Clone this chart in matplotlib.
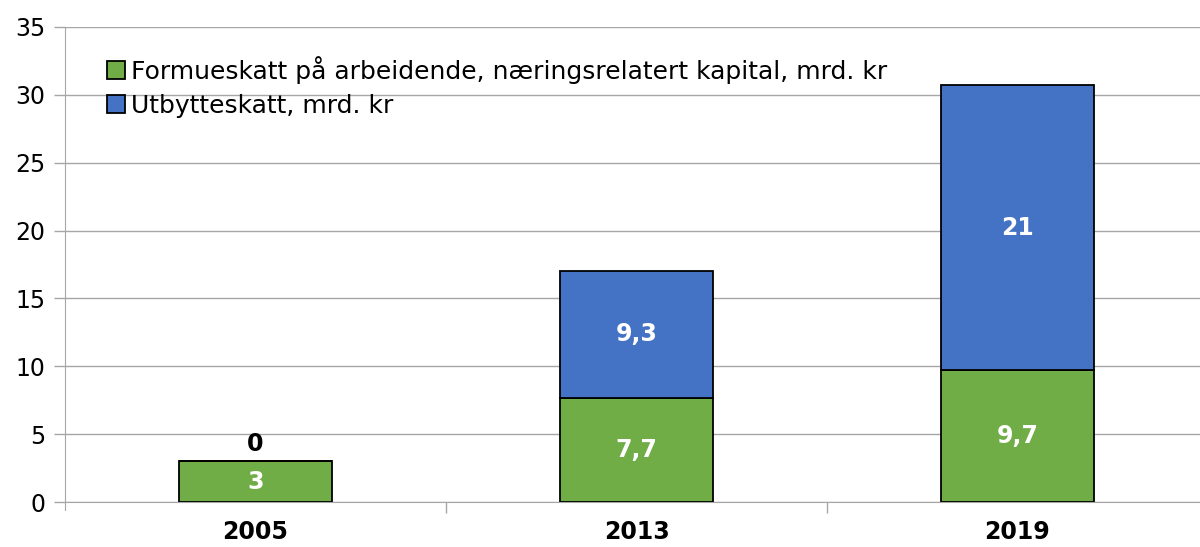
import matplotlib.pyplot as plt
import numpy as np

plt.rcParams['font.family'] = ['DejaVu Sans']

years = ['2005', '2013', '2019']
formueskatt = [3, 7.7, 9.7]
utbytteskatt = [0, 9.3, 21]
labels_green = ['3', '7,7', '9,7']
labels_blue = ['0', '9,3', '21']

green = '#70AD47'
blue = '#4472C4'
grid_col = '#A6A6A6'

fig = plt.figure(figsize=(12, 5.47), dpi=100)
ax = fig.add_axes([65/1200, 45/547, 1143/1200, 475/547])

x = np.arange(len(years))
w = 0.4
ax.bar(x, formueskatt, w, color=green, edgecolor='black', linewidth=1.3,
       label='Formueskatt på arbeidende, næringsrelatert kapital, mrd. kr', zorder=3)
ax.bar(x, utbytteskatt, w, bottom=formueskatt, color=blue, edgecolor='black', linewidth=1.3,
       label='Utbytteskatt, mrd. kr', zorder=3)

for i in range(len(years)):
    ax.text(x[i], formueskatt[i] / 2, labels_green[i], ha='center', va='center',
            color='white', fontsize=17, fontweight='bold', zorder=4)
    if utbytteskatt[i] > 0:
        ax.text(x[i], formueskatt[i] + utbytteskatt[i] / 2, labels_blue[i], ha='center',
                va='center', color='white', fontsize=17, fontweight='bold', zorder=4)
    else:
        ax.text(x[i], formueskatt[i] + 0.4, labels_blue[i], ha='center', va='bottom',
                color='black', fontsize=17, fontweight='bold', zorder=4)

ax.set_ylim(0, 35)
ax.set_xlim(-0.5, 2.5)
ax.set_yticks(range(0, 36, 5))
ax.set_xticks(x)
ax.set_xticklabels(years, fontsize=17, fontweight='bold')
ax.set_xticks([0.5, 1.5], minor=True)
ax.tick_params(axis='x', which='major', length=0, pad=13)
ax.tick_params(axis='x', which='minor', length=8, color=grid_col, width=1)
ax.tick_params(axis='y', length=8, color=grid_col, width=1, labelsize=17, pad=6)
ax.yaxis.grid(True, color=grid_col, linewidth=1, zorder=0)

for s in ['top', 'right']:
    ax.spines[s].set_visible(False)
ax.spines['left'].set_color(grid_col)
ax.spines['bottom'].set_color(grid_col)
ax.spines['left'].set_bounds(-0.6, 35)

leg = ax.legend(loc='upper left', bbox_to_anchor=(0.028, 0.96), frameon=False,
                fontsize=18, handlelength=0.7, handleheight=0.7, handletextpad=0.25,
                labelspacing=0.4, borderaxespad=0)
for h in leg.legend_handles:
    h.set_linewidth(1.3)

fig.savefig('out.png', dpi=100)
